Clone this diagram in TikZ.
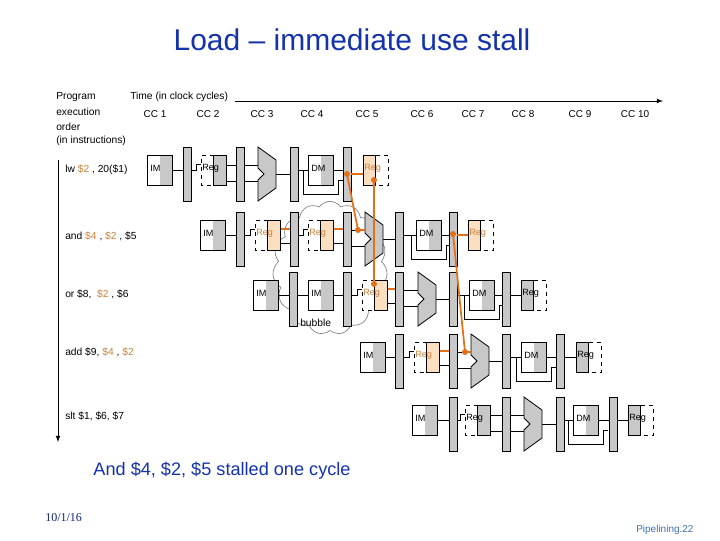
\documentclass[tikz,border=0pt]{standalone}
\usepackage{fontspec}
\setmainfont{Liberation Sans}
\newfontfamily\serifd{Liberation Serif}
\usetikzlibrary{shapes.symbols}
\definecolor{orng}{RGB}{225,112,25}
\definecolor{lorng}{RGB}{252,222,192}
\definecolor{otext}{RGB}{200,130,60}
\definecolor{ttl}{RGB}{20,50,170}
\definecolor{pgc}{RGB}{60,110,180}
\definecolor{gfill}{RGB}{200,200,200}
\tikzset{wire/.style={line width=0.6pt},
 owire/.style={line width=1.3pt,orng},
 lbl/.style={font=\fontsize{6.8}{7}\selectfont,inner sep=0pt,anchor=west},
 small/.style={font=\fontsize{7.7}{8}\selectfont,inner sep=0pt,anchor=west},
 odot/.style={fill=orng,draw=none}}
\newcommand\imb[2]{\fill[gfill] (#1+12.5,#2-15) rectangle (#1+25,#2+15);\fill[white] (#1,#2-15) rectangle (#1+12.5,#2+15);\draw[wire] (#1,#2-15) rectangle (#1+25,#2+15);\node[lbl] at (#1+3,#2-2){IM};}
\newcommand\dmb[2]{\fill[gfill] (#1+12.5,#2-15) rectangle (#1+25,#2+15);\fill[white] (#1,#2-15) rectangle (#1+12.5,#2+15);\draw[wire] (#1,#2-15) rectangle (#1+25,#2+15);\node[lbl] at (#1+3,#2-2){DM};}
\newcommand\pbar[2]{\draw[wire,fill=gfill] (#1,#2-23) rectangle (#1+8,#2+31);}
\newcommand\alu[2]{\draw[wire,fill=gfill] (#1,#2-23) -- (#1+18,#2-10) -- (#1+18,#2+18) -- (#1,#2+31) -- (#1,#2+10) -- (#1+6,#2+4) -- (#1,#2-2) -- cycle;}
\newcommand\regr[4]{\fill[white] (#1,#2-15) rectangle (#1+12.5,#2+15);\draw[wire,dashed] (#1+12.5,#2-15) -- (#1,#2-15) -- (#1,#2+15) -- (#1+12.5,#2+15);\draw[wire,fill=#3] (#1+12.5,#2-15) rectangle (#1+25,#2+15);\node[lbl,text=#4] at (#1+1,#2-2){Reg};}
\newcommand\regw[4]{\fill[white] (#1+12.5,#2-15) rectangle (#1+25,#2+15);\draw[wire,dashed] (#1+12.5,#2-15) -- (#1+25,#2-15) -- (#1+25,#2+15) -- (#1+12.5,#2+15);\draw[wire,fill=#3] (#1,#2-15) rectangle (#1+12.5,#2+15);\node[lbl,text=#4] at (#1+1,#2-2){Reg};}
\newcommand\hw[3]{\draw[wire] (#1,#3) -- (#2,#3);}
\newcommand\how[3]{\draw[owire] (#1,#3) -- (#2,#3);}
\newcommand\brk[3]{\draw[wire] (#1,#3) -- (#2-5,#3) -- (#2-5,#3-6) -- (#2,#3-6);}
\newcommand\byp[2]{\draw[wire] (#1-5,#2) -- (#1-5,#2+24) -- (#1+30,#2+24) -- (#1+30,#2+10) -- (#1+35,#2+10);}
\begin{document}
\begin{tikzpicture}[x=0.75pt,y=-0.75pt]
\useasboundingbox (0,0) rectangle (720,540);
\node[font=\fontsize{22.5}{26}\selectfont,text=ttl] (title) at (352,40) {Load – immediate use stall};
\node[small,anchor=west] (time) at (130,97) {Time (in clock cycles)};
\coordinate (t0) at (235,101); \coordinate (t1) at (663,101);
\draw[wire,-latex] (t0) -- (t1);
\node[small] (p1) at (56,97) {Program};
\node[small] (p2) at (56,112) {execution};
\node[small] (p3) at (56,127) {order};
\node[small] (p4) at (56,141) {(in instructions)};
\coordinate (v0) at (58,160); \coordinate (v1) at (58,442);
\draw[wire,-latex] (v0) -- (v1);
\foreach \x/\n in {155/1,208/2,262/3,312/4,367/5,422/6,473/7,523/8,580/9,635/10}
  \node[font=\fontsize{7.5}{8}\selectfont] (cc\n) at (\x,114) {CC \n};
\node[small] (i1) at (65,170) {lw \textcolor{otext}{\$2} , 20(\$1)};
\node[small] (i2) at (65,236) {and \textcolor{otext}{\$4} , \textcolor{otext}{\$2} , \$5};
\node[small] (i3) at (65,294) {or \$8,~ \textcolor{otext}{\$2} , \$6};
\node[small] (i4) at (65,352) {add \$9, \textcolor{otext}{\$4} , \textcolor{otext}{\$2}};
\node[small] (i5) at (65,416) {slt \$1, \$6, \$7};
\node[cloud,cloud puffs=15,cloud puff arc=110,aspect=0.8,draw=gray,line width=0.5pt,minimum width=86pt,minimum height=100pt] (bub) at (330,268) {};
\node[small] (bt) at (300,323) {bubble};
% row 1
\hw{172}{183}{170} \brk{191}{201}{170}
\hw{226}{236}{165} \hw{226}{236}{181}
\hw{244}{258}{165} \hw{244}{258}{181}
\hw{276}{290}{174} \hw{298}{308}{170} \hw{333}{343}{170}
\byp{308}{170}
\imb{147}{170} \pbar{183}{170} \regr{201}{170}{gfill}{black} \pbar{236}{170}
\alu{258}{170} \pbar{290}{170} \dmb{308}{170} \pbar{343}{170}
\how{351}{363}{174} \regw{363}{170}{lorng}{otext}
% row 2
\hw{225}{236}{235} \brk{244}{255}{235}
\how{280}{290}{229} \hw{280}{290}{243}
\brk{298}{308}{235}
\how{333}{343}{229} \hw{333}{343}{243}
\hw{351}{365}{230} \hw{351}{365}{246}
\hw{383}{395}{239} \hw{403}{416}{235} \hw{441}{449}{235}
\byp{416}{235}
\imb{200}{235} \pbar{236}{235} \regr{255}{235}{lorng}{otext} \pbar{290}{235}
\regr{308}{235}{lorng}{otext} \pbar{343}{235} \alu{365}{235} \pbar{395}{235}
\dmb{416}{235} \pbar{449}{235} \how{457}{468}{235} \regw{468}{235}{lorng}{otext}
\how{358}{365}{230}
% row 3
\hw{278}{289}{295} \hw{297}{308}{295} \hw{333}{343}{295} \brk{351}{362}{295}
\how{387}{395}{289} \hw{387}{395}{303}
\hw{403}{418}{290} \hw{403}{418}{306}
\hw{436}{449}{299} \hw{457}{469}{295} \hw{494}{502}{295} \hw{510}{521}{295}
\byp{469}{295}
\imb{253}{295} \pbar{289}{295} \imb{308}{295} \pbar{343}{295}
\regr{362}{295}{lorng}{otext} \pbar{395}{295} \alu{418}{295} \pbar{449}{295}
\dmb{469}{295} \pbar{502}{295} \regw{521}{295}{gfill}{black}
% row 4
\hw{385}{395}{357} \brk{403}{414}{357}
\how{439}{449}{351} \hw{439}{449}{365}
\hw{457}{471}{352} \hw{457}{471}{368}
\hw{489}{502}{361} \hw{510}{521}{357} \hw{546}{556}{357} \hw{564}{576}{357}
\byp{521}{357}
\imb{360}{357} \pbar{395}{357} \regr{414}{357}{lorng}{otext} \pbar{449}{357}
\alu{471}{357} \pbar{502}{357} \dmb{521}{357} \pbar{556}{357} \regw{576}{357}{gfill}{black}
\how{465}{471}{352}
% row 5
\hw{437}{449}{420} \brk{457}{465}{420}
\hw{490}{502}{415} \hw{490}{502}{431}
\hw{510}{524}{415} \hw{510}{524}{431}
\hw{542}{556}{424} \hw{564}{573}{420} \hw{598}{609}{420} \hw{617}{628}{420}
\byp{573}{420}
\imb{412}{420} \pbar{449}{420} \regr{465}{420}{gfill}{black} \pbar{502}{420}
\alu{524}{420} \pbar{556}{420} \dmb{573}{420} \pbar{609}{420} \regw{628}{420}{gfill}{black}
% forwarding
\coordinate (f1a) at (347,174); \coordinate (f1b) at (358,230);
\coordinate (f2a) at (374,180); \coordinate (f2b) at (374,284);
\coordinate (f3a) at (453,234); \coordinate (f3b) at (465,352);
\draw[owire] (f1a) -- (f1b); \draw[owire] (f2a) -- (f2b); \draw[owire] (f3a) -- (f3b);
\foreach \c in {f1a,f1b,f2a,f2b,f3a,f3b} \fill[odot] (\c) circle (3);
\node[font=\fontsize{13.6}{15}\selectfont,text=ttl] (note) at (222,471) {And \$4, \$2, \$5 stalled one cycle};
\node[font=\serifd\fontsize{9}{10}\selectfont,text=ttl!70!black,anchor=west,inner sep=0pt] (date) at (45,518) {10/1/16};
\node[font=\fontsize{7.5}{9}\selectfont,text=pgc,anchor=west,inner sep=0pt] (pg) at (636,530) {Pipelining.22};
\end{tikzpicture}
\end{document}
